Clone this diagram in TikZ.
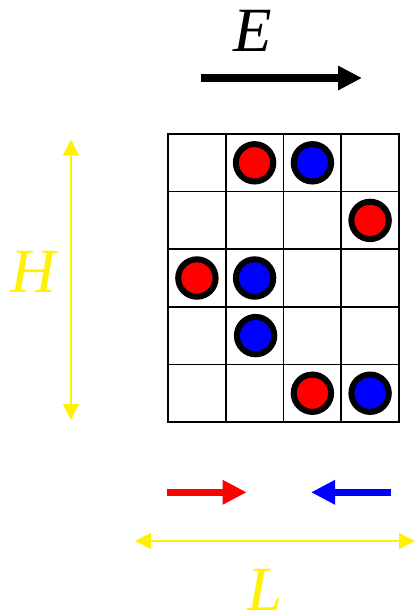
\documentclass[tikz,border=0pt]{standalone}
\usepackage{fontspec}
\setmainfont{Liberation Serif}
\usetikzlibrary{arrows.meta}
\begin{document}
\begin{tikzpicture}[x=1pt,y=-1pt,
  ball/.style={circle,draw=black,line width=6pt,minimum size=37.4pt,inner sep=0pt},
  redball/.style={ball,fill=red},
  blueball/.style={ball,fill=blue},
  lab/.style={font=\fontsize{63}{63}\selectfont\itshape,inner sep=0pt,anchor=base},
  fatarrow/.style={line width=7.5pt,-{Triangle[length=24pt,width=23pt]}},
  dimarrow/.style={yellow,line width=1.2pt,{Triangle[length=16pt,width=16pt]}-{Triangle[length=16pt,width=16pt]}}]
\useasboundingbox (0,0) rectangle (415,613);
% grid
\draw[line width=1.6pt] (168,134) rectangle (399,422);
\foreach \x in {225.75,283.5,341.25} \draw[line width=1.6pt] (\x,134) -- (\x,422);
\foreach \y in {191.6,249.2,306.8,364.4} \draw[line width=1.6pt] (168,\y) -- (399,\y);
% balls (cell centres)
\node[redball]  (r1) at (254.6,162.8) {};
\node[blueball] (b1) at (312.4,162.8) {};
\node[redball]  (r2) at (370.1,220.4) {};
\node[redball]  (r3) at (196.9,278.0) {};
\node[blueball] (b2) at (254.6,278.0) {};
\node[blueball] (b3) at (255.6,335.6) {};
\node[redball]  (r4) at (312.4,393.2) {};
\node[blueball] (b4) at (370.1,393.2) {};
% field
\node[lab] (E) at (253,51.7) {E};
\coordinate (e0) at (201,78);
\coordinate (e1) at (362,78);
\draw[fatarrow,black] (e0) -- (e1);
% H
\coordinate (h0) at (71,139.5);
\coordinate (h1) at (71,420);
\draw[dimarrow] (h0) -- (h1);
\node[lab,yellow] (H) at (33,292.7) {H};
% red / blue arrows
\coordinate (ra0) at (166.5,492.3);
\coordinate (ra1) at (246.7,492.3);
\draw[fatarrow,red] (ra0) -- (ra1);
\coordinate (ba0) at (390.7,492.3);
\coordinate (ba1) at (311,492.3);
\draw[fatarrow,blue] (ba0) -- (ba1);
% L
\coordinate (l0) at (135,541);
\coordinate (l1) at (415,541);
\draw[dimarrow] (l0) -- (l1);
\node[lab,yellow] (L) at (265,610.5) {L};
\end{tikzpicture}
\end{document}
